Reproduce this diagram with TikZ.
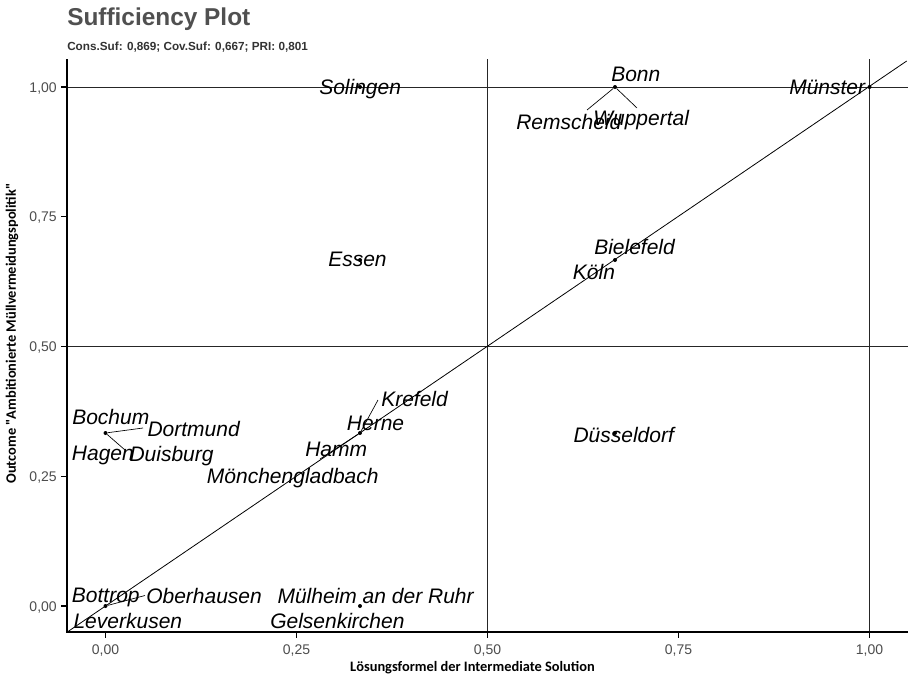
\documentclass[tikz,border=0pt]{standalone}
\usepackage{fontspec}
\setmainfont{Liberation Sans}
\newfontfamily\carlito{Carlito}
\usepackage{tikz}
\usetikzlibrary{shapes,arrows}
\definecolor{ticklab}{HTML}{4D4D4D}
\definecolor{titlegray}{HTML}{505050}
\definecolor{subgray}{HTML}{333333}

\begin{document}
\begin{tikzpicture}[x=0.75pt,y=0.75pt,yscale=-1,xscale=1,
  city/.style={anchor=base west,inner sep=0pt,font=\fontsize{15.75}{18}\selectfont\itshape},
  ticky/.style={anchor=base east,inner sep=0pt,text=ticklab,font=\fontsize{10.5}{12}\selectfont},
  tickx/.style={anchor=base,inner sep=0pt,text=ticklab,font=\fontsize{10.5}{12}\selectfont},
  axtitle/.style={anchor=base,inner sep=0pt,font=\fontsize{10.8}{12}\selectfont\carlito\bfseries},
  pt/.style={circle,fill=black,inner sep=0pt,minimum size=3pt},
  refline/.style={draw=black!85,line width=0.75pt},
  seg/.style={draw=black,line width=0.5pt}]
\useasboundingbox (0,0) rectangle (908,679);
\fill[white] (0,0) rectangle (908,679);

%Reference Lines
\draw [refline]  (487.5,59) -- (487.5,632) ;
\draw [refline]  (869.5,59) -- (869.5,632) ;
\draw [refline]  (67,346.5) -- (908,346.5) ;
\draw [refline]  (67,87) -- (908,87) ;
%Diagonal
\draw [line width=0.6pt]  (67.3,632) -- (906.7,61) ;

%Axis Lines
\draw [line width=1.1pt]  (67,59) -- (67,632) -- (908,632) ;
%Ticks y
\draw [line width=0.8pt]  (61,606) -- (67,606) ;
\draw [line width=0.8pt]  (61,476.25) -- (67,476.25) ;
\draw [line width=0.8pt]  (61,346.5) -- (67,346.5) ;
\draw [line width=0.8pt]  (61,216.75) -- (67,216.75) ;
\draw [line width=0.8pt]  (61,87) -- (67,87) ;
%Ticks x
\draw [line width=0.8pt]  (105.5,632) -- (105.5,638) ;
\draw [line width=0.8pt]  (296.5,632) -- (296.5,638) ;
\draw [line width=0.8pt]  (487.5,632) -- (487.5,638) ;
\draw [line width=0.8pt]  (678.5,632) -- (678.5,638) ;
\draw [line width=0.8pt]  (869.5,632) -- (869.5,638) ;

% Tick Labels
\node [ticky] (ly0) at (57,611) {0,00};
\node [ticky] (ly1) at (57,481.25) {0,25};
\node [ticky] (ly2) at (57,351.5) {0,50};
\node [ticky] (ly3) at (57,221.75) {0,75};
\node [ticky] (ly4) at (57,92) {1,00};
\node [tickx] (lx0) at (105.5,654.5) {0,00};
\node [tickx] (lx1) at (296.5,654.5) {0,25};
\node [tickx] (lx2) at (487.5,654.5) {0,50};
\node [tickx] (lx3) at (678.5,654.5) {0,75};
\node [tickx] (lx4) at (869.5,654.5) {1,00};

% Axis Titles
\node [axtitle] (xtitle) at (472.5,671.5) {Lösungsformel der Intermediate Solution};
\node [axtitle,rotate=90] (ytitle) at (16,333.5) {Outcome "Ambitionierte Müllvermeidungspolitik"};

% Title
\node [anchor=base west,inner sep=0pt,text=titlegray,font=\fontsize{18.3}{20}\selectfont\bfseries] (title) at (67,25) {Sufficiency Plot};
\node [anchor=base west,inner sep=0pt,text=subgray,font=\fontsize{8.8}{10}\selectfont\bfseries] (subtitle) at (67,50) {Cons.Suf: 0,869; Cov.Suf: 0,667; PRI: 0,801};

%Points
\node [pt] (pBottrop) at (105.5,606) {};
\node [pt] (pMuelheim) at (360,606) {};
\node [pt] (pBochum) at (105.5,433) {};
\node [pt] (pHerne) at (360,433) {};
\node [pt] (pDuesseldorf) at (615,433) {};
\node [pt] (pEssen) at (360,260) {};
\node [pt] (pBielefeld) at (615,260) {};
\node [pt] (pSolingen) at (360,87) {};
\node [pt] (pBonn) at (615,87) {};
\node [pt] (pMuenster) at (869.5,87) {};

%Segment Ends
\coordinate (sRemscheid) at (587,110);
\coordinate (sWuppertal) at (637,108);
\coordinate (sDortmund) at (143,428);
\coordinate (sDuisburg) at (125,450);
\coordinate (sOberhausen) at (145,595.5);
\coordinate (sKrefeld) at (378,400);
\coordinate (sMoenchengladbach) at (320,459);

%Segments
\draw [seg]  (pBonn) -- (sRemscheid) ;
\draw [seg]  (pBonn) -- (sWuppertal) ;
\draw [seg]  (pBochum) -- (sDortmund) ;
\draw [seg]  (pBochum) -- (sDuisburg) ;
\draw [seg]  (pBottrop) -- (sOberhausen) ;
\draw [seg]  (pHerne) -- (sKrefeld) ;
\draw [seg]  (pHerne) -- (sMoenchengladbach) ;

% Text Node
\node [city] (Solingen) at (319,94) {Solingen};
\node [city] (Bonn) at (611,81.7) {Bonn};
\node [city] (Remscheid) at (516,129) {Remscheid};
\node [city] (Wuppertal) at (593,125.7) {Wuppertal};
\node [city] (Muenster) at (789,94.3) {Münster};
\node [city] (Essen) at (328,266) {Essen};
\node [city] (Bielefeld) at (594,254) {Bielefeld};
\node [city] (Koeln) at (572.7,279.3) {Köln};
\node [city] (Krefeld) at (381,406) {Krefeld};
\node [city] (Herne) at (346.7,430) {Herne};
\node [city] (Hamm) at (305,456.7) {Hamm};
\node [city] (Moenchengladbach) at (206.7,483.3) {Mönchengladbach};
\node [city] (Bochum) at (72,424.3) {Bochum};
\node [city] (Dortmund) at (147.3,436) {Dortmund};
\node [city] (Hagen) at (71.7,460) {Hagen};
\node [city] (Duisburg) at (129.3,461.7) {Duisburg};
\node [city] (Duesseldorf) at (573.3,442.7) {Düsseldorf};
\node [city] (Bottrop) at (71.7,602.3) {Bottrop};
\node [city] (Oberhausen) at (146,603.3) {Oberhausen};
\node [city] (Leverkusen) at (73.3,628.3) {Leverkusen};
\node [city] (Muelheim) at (277.3,603.3) {Mülheim an der Ruhr};
\node [city] (Gelsenkirchen) at (270,628.3) {Gelsenkirchen};

\end{tikzpicture}
\end{document}
